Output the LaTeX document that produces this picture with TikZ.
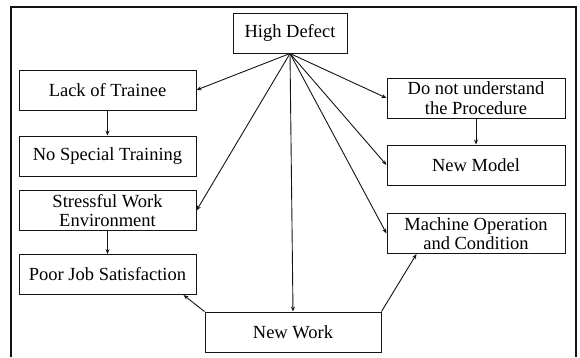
\documentclass[tikz,border=0pt]{standalone}
\usepackage{fontspec}
\setmainfont{Liberation Serif}
\usetikzlibrary{arrows.meta,positioning}
\definecolor{lnblack}{RGB}{20,20,20}

\begin{document}
\begin{tikzpicture}[x=1pt, y=-1pt,
  causebox/.style={rectangle, draw=lnblack, line width=1pt, minimum width=177pt,
    minimum height=40pt, align=center, inner sep=1pt,
    font=\fontsize{18.5}{19.5}\selectfont},
  link/.style={-{Stealth[length=5pt,width=4pt]}, lnblack, line width=0.9pt}]

  \useasboundingbox (0,0) rectangle (580,357);
  % outer frame, open at the bottom
  \draw[lnblack, line width=1.2pt] (11,357) -- (11,7) -- (576,7) -- (576,357);

  % Top
  \node[causebox, minimum width=114pt] (defect) at (290,33) {High Defect};

  % Left column
  \node[causebox] (trainee)  at (107.5,90)    {Lack of Trainee};
  \node[causebox, below=25pt of trainee] (training) {No Special Training};
  \node[causebox] (stress)   at (107.5,210.5) {Stressful Work\\Environment};
  \node[causebox, below=23pt of stress]  (poorjob)  {Poor Job Satisfaction};

  % Right column
  \node[causebox, minimum width=178pt] (procedure) at (476,98) {Do not understand\\the Procedure};
  \node[causebox, minimum width=178pt, below=26pt of procedure] (model) {New Model};
  \node[causebox, minimum width=178pt] (machine) at (476,233.5) {Machine Operation\\and Condition};

  % Bottom
  \node[causebox, minimum width=176pt] (newwork) at (293,332) {New Work};

  % Links from the top box
  \draw[link] (defect.south) -- (trainee.east);
  \draw[link] (defect.south) -- (stress.east);
  \draw[link] (defect.south) -- (newwork.north);
  \draw[link] (defect.south) -- (procedure.west);
  \draw[link] (defect.south) -- (model.west);
  \draw[link] (defect.south) -- (machine.west);

  % Column links
  \draw[link] (trainee)   -- (training);
  \draw[link] (stress)    -- (poorjob);
  \draw[link] (procedure) -- (model);

  % Links from the bottom box
  \draw[link] (newwork.north west) -- ([xshift=-13pt]poorjob.south east);
  \draw[link] (newwork.north east) -- ([xshift=30pt]machine.south west);
\end{tikzpicture}
\end{document}
